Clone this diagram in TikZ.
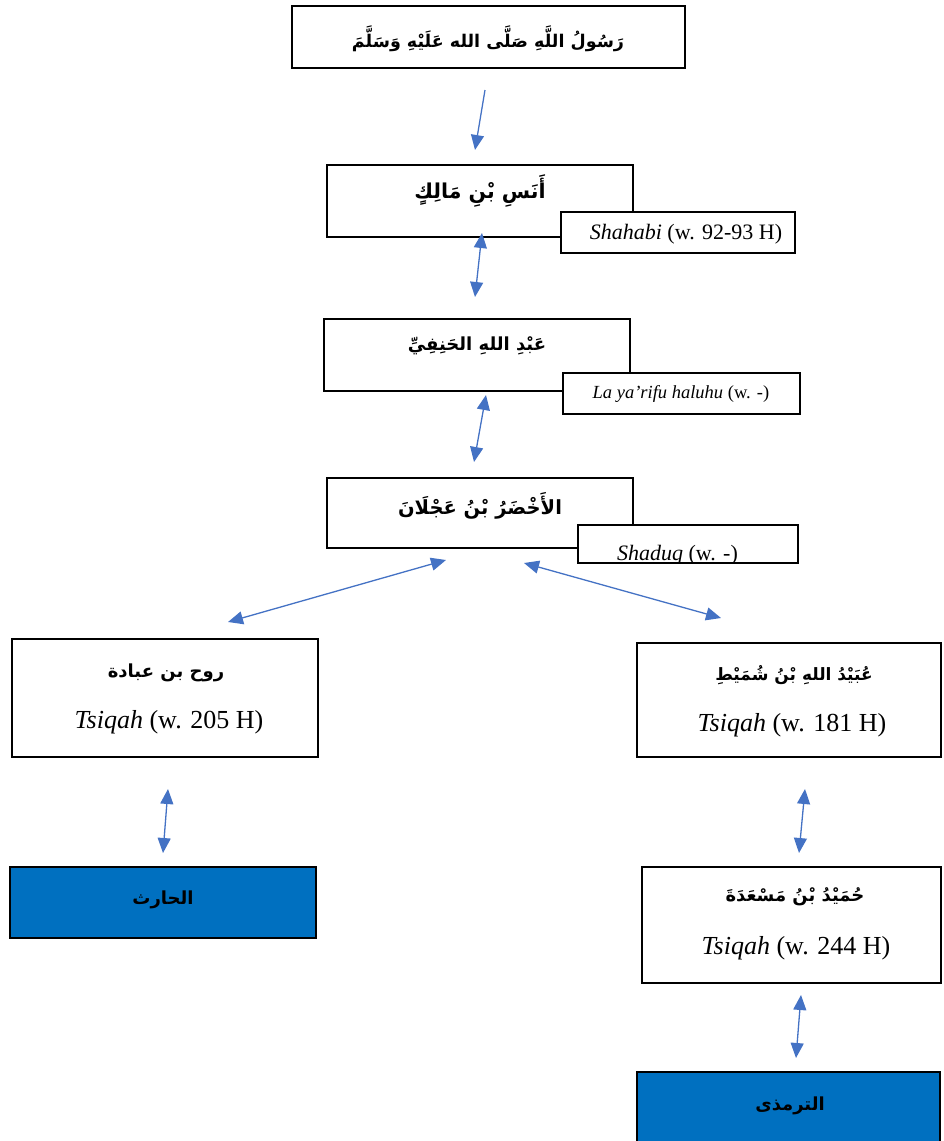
\documentclass[tikz,border=0pt]{standalone}
\usepackage{fontspec}
\setmainfont{Liberation Serif}
\newfontfamily\arabicfont[Script=Arabic]{DejaVu Sans}
\TeXXeTstate=1
\usetikzlibrary{arrows.meta}
\definecolor{linkblue}{HTML}{4472C4}
\definecolor{endblue}{HTML}{0070C0}
% Arabic name set right to left in bold
\newcommand{\arname}[1]{{\arabicfont\bfseries\beginR #1\endR}}
\newcommand{\fs}[1]{\fontsize{#1}{#1}\selectfont}
\begin{document}
\begin{tikzpicture}[x=1pt,y=-1pt,
  box/.style={draw=black,line width=2pt,fill=white,inner sep=0pt,
    minimum width=#1},
  endbox/.style={box=#1,fill=endblue},
  gradebox/.style={draw=black,line width=2pt,fill=white,inner sep=0pt,
    minimum width=#1,minimum height=41pt},
  nametext/.style={inner sep=0pt,font=\fs{18}},
  gradetext/.style={inner sep=0pt,font=\fs{26}},
  smallgrade/.style={inner sep=0pt,font=\fs{22}},
  link/.style={draw=linkblue,line width=1.3pt,
    {Triangle[length=15pt,width=13pt]}-{Triangle[length=15pt,width=13pt]}},
  onelink/.style={draw=linkblue,line width=1.3pt,
    -{Triangle[length=15pt,width=13pt]}}]
\useasboundingbox (0,0) rectangle (943,1141);

% chain of narrators
\node[box=393pt,minimum height=62pt] (rasul) at (488.5,37) {};
\node[nametext,font=\fs{17.5}] (rasulname) at (488,39)
  {\arname{رَسُولُ اللَّهِ صَلَّى الله عَلَيْهِ وَسَلَّمَ}};

\node[box=306pt,minimum height=72pt] (anas) at (480,201) {};
\node[nametext,font=\fs{20.5}] (anasname) at (480,191) {\arname{أَنَسِ بْنِ مَالِكٍ}};
\node[gradebox=234pt] (anasgrade) at (678,232.5) {};
\node[smallgrade] (anasgradetext) at (686,234) {\textit{Shahabi} (w. 92-93 H)};

\node[box=306pt,minimum height=72pt] (abd) at (477,355) {};
\node[nametext] (abdname) at (477,346) {\arname{عَبْدِ اللهِ الحَنِفِيِّ}};
\node[gradebox=237pt] (abdgrade) at (681.5,393.5) {};
\node[inner sep=0pt,font=\fs{18.5}] (abdgradetext) at (681,394)
  {\textit{La ya'rifu haluhu} (w. -)};

\node[box=306pt,minimum height=70pt] (akh) at (480,513) {};
\node[nametext,font=\fs{19.5}] (akhname) at (480,506) {\arname{الأَخْضَرُ بْنُ عَجْلَانَ}};
\node[gradebox=220pt,minimum height=38pt] (akhgrade) at (688,544) {};
\begin{scope}
  \clip ([shift={(1pt,-1pt)}]akhgrade.north west) rectangle ([shift={(-1pt,1pt)}]akhgrade.south east);
  \node[smallgrade,anchor=base] (akhgradetext) at (677.5,560) {\textit{Shaduq} (w. -)};
\end{scope}

\node[box=306pt,minimum height=118pt] (rawh) at (165,698) {};
\node[nametext] (rawhname) at (166,673) {\arname{روح بن عبادة}};
\node[gradetext] (rawhgrade) at (169,722) {\textit{Tsiqah} (w. 205 H)};

\node[box=304pt,minimum height=114pt] (ubay) at (789,700) {};
\node[nametext,font=\fs{17}] (ubayname) at (794,675) {\arname{عُبَيْدُ اللهِ بْنُ شُمَيْطِ}};
\node[gradetext] (ubaygrade) at (792,725) {\textit{Tsiqah} (w. 181 H)};

\node[endbox=306pt,minimum height=71pt] (harith) at (163,902.5) {};
\node[nametext] (harithname) at (163,900) {\arname{الحارث}};

\node[box=299pt,minimum height=116pt] (humaid) at (791.5,925) {};
\node[nametext] (humaidname) at (795,897) {\arname{حُمَيْدُ بْنُ مَسْعَدَةَ}};
\node[gradetext] (humaidgrade) at (796,948) {\textit{Tsiqah} (w. 244 H)};

\node[endbox=303pt,minimum height=72pt] (tirmidhi) at (788.5,1108) {};
\node[nametext] (tirmidhiname) at (790,1106) {\arname{الترمذى}};

% connector ends
\coordinate (r1) at (485,90);   \coordinate (r2) at (475,150);
\coordinate (a1) at (482,233);  \coordinate (a2) at (475,297);
\coordinate (b1) at (486,395);  \coordinate (b2) at (474,462);
\coordinate (c1) at (446,560);  \coordinate (c2) at (228,622);
\coordinate (d1) at (524,563);  \coordinate (d2) at (721,618);
\coordinate (e1) at (168,789);  \coordinate (e2) at (163,853);
\coordinate (f1) at (805,789);  \coordinate (f2) at (799,853);
\coordinate (g1) at (801,995);  \coordinate (g2) at (796,1058);

\draw[onelink] (r1) -- (r2);
\draw[link] (a1) -- (a2);
\draw[link] (b1) -- (b2);
\draw[link] (c1) -- (c2);
\draw[link] (d1) -- (d2);
\draw[link] (e1) -- (e2);
\draw[link] (f1) -- (f2);
\draw[link] (g1) -- (g2);
\end{tikzpicture}
\end{document}
